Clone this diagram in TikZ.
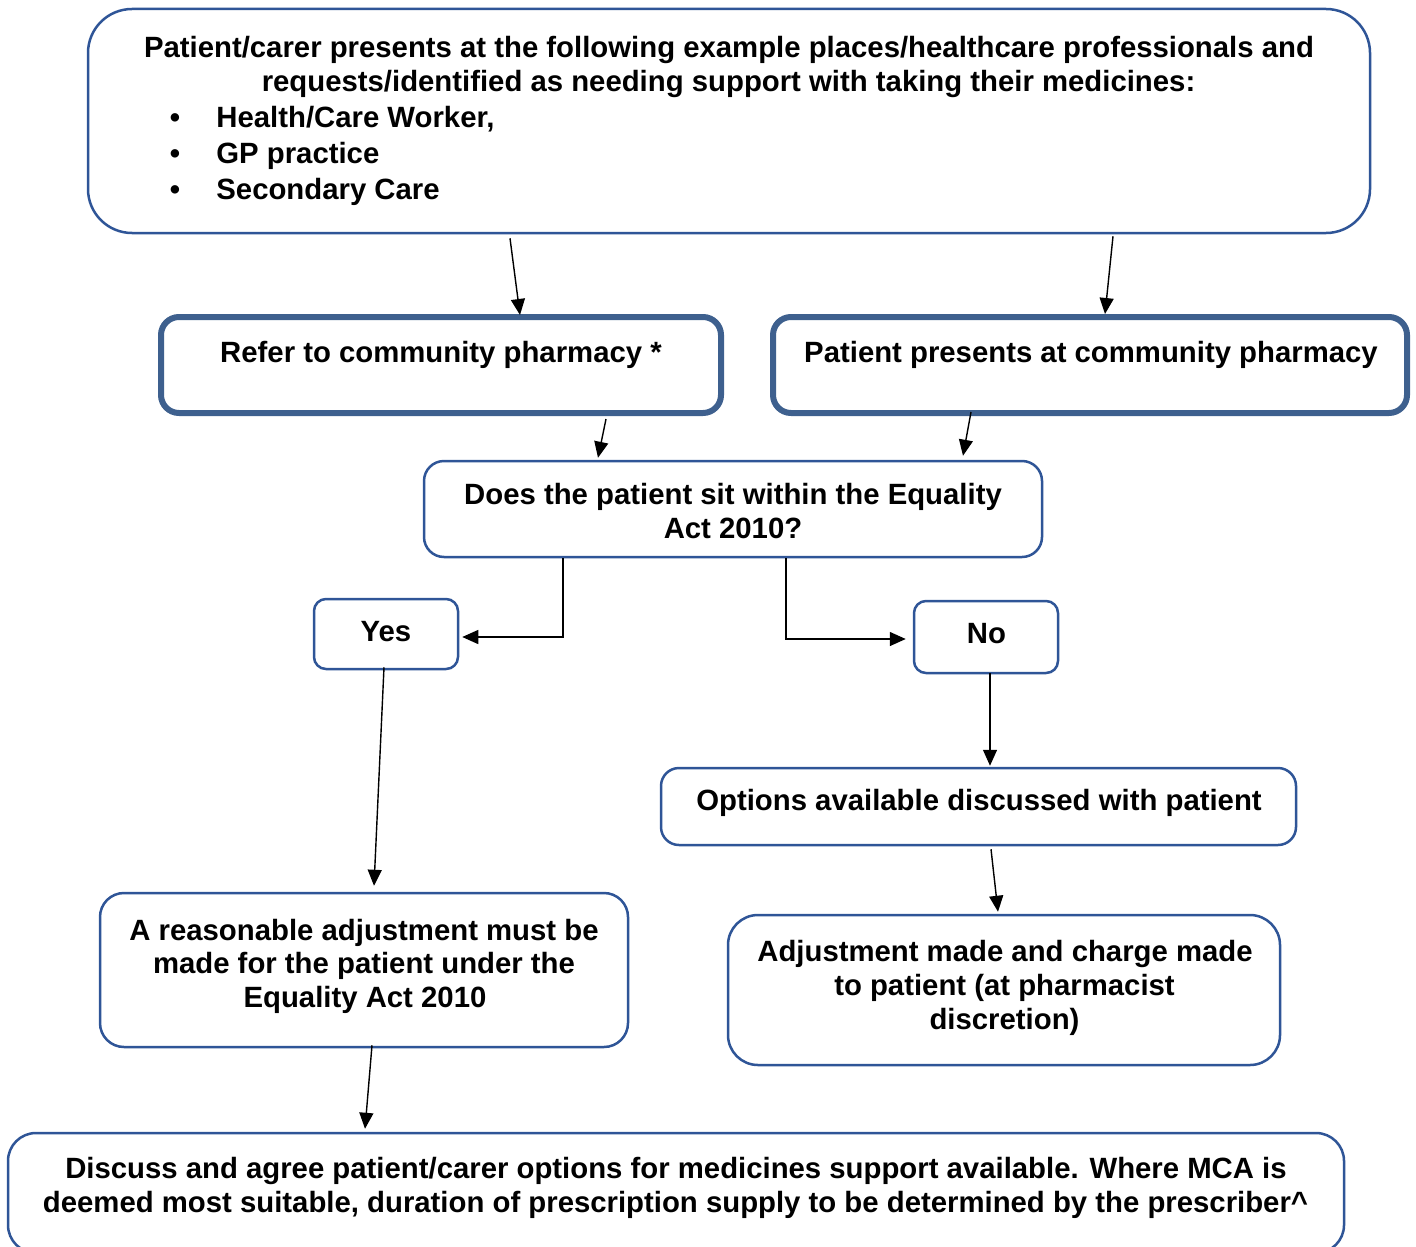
\documentclass[tikz,border=0pt]{standalone}
\usepackage{fontspec}
\setmainfont{Liberation Sans}
\usetikzlibrary{arrows.meta,calc}
\definecolor{thinblue}{RGB}{47,85,151}
\definecolor{thickblue}{RGB}{62,96,142}
\tikzset{
  box/.style={draw=thinblue, line width=1.25pt, fill=white, rectangle, inner sep=0pt},
  thickbox/.style={draw=thickblue, line width=3pt, fill=white, rectangle, inner sep=0pt},
  txt/.style={anchor=base, inner sep=0pt, font=\bfseries\fontsize{14.66}{17}\selectfont},
  ltxt/.style={anchor=base west, inner sep=0pt, font=\bfseries\fontsize{14.66}{17}\selectfont},
  arr/.style={draw=black, line width=0.7pt, -{Triangle[length=8pt,width=7pt]}}
}
\begin{document}
\begin{tikzpicture}[x=0.5pt,y=-0.5pt]
\useasboundingbox (0,0) rectangle (1416,1246);
% boxes
\node[box, rounded corners=22pt, minimum width=641pt, minimum height=112pt] (top) at (729,121) {};
\node[thickbox, rounded corners=9pt, minimum width=280pt, minimum height=48pt] (refer) at (441,365) {};
\node[thickbox, rounded corners=9pt, minimum width=317pt, minimum height=48pt] (pres) at (1090,365) {};
\node[box, rounded corners=10pt, minimum width=309pt, minimum height=48pt] (eq) at (733,509) {};
\node[box, rounded corners=6pt, minimum width=72pt, minimum height=35pt] (yes) at (386,634) {};
\node[box, rounded corners=6pt, minimum width=72pt, minimum height=36pt] (no) at (986,637) {};
\node[box, rounded corners=9pt, minimum width=317.5pt, minimum height=38.5pt] (opt) at (978.5,806.5) {};
\node[box, rounded corners=15pt, minimum width=276pt, minimum height=75pt] (adj) at (1004,990) {};
\node[box, rounded corners=12pt, minimum width=264pt, minimum height=77pt] (rea) at (364,970) {};
\node[box, rounded corners=14pt, minimum width=668pt, minimum height=60pt] (dis) at (676,1193) {};
% texts
\node[txt] (t1) at (729,58) {Patient/carer presents at the following example places/healthcare professionals and};
\node[txt] (t2) at (728.5,92) {requests/identified as needing support with taking their medicines:};
\node[txt] (b1) at (175,128) {\textbullet};
\node[txt] (b2) at (175,163) {\textbullet};
\node[txt] (b3) at (175,199) {\textbullet};
\node[ltxt] (l1) at (216,128) {Health/Care Worker,};
\node[ltxt] (l2) at (216,163) {GP practice};
\node[ltxt] (l3) at (216,199) {Secondary Care};
\node[txt] (treferl) at (441,362) {Refer to community pharmacy *};
\node[txt] (tpres) at (1091,362) {Patient presents at community pharmacy};
\node[txt] (teq1) at (733,504) {Does the patient sit within the Equality};
\node[txt] (teq2) at (733,538) {Act 2010?};
\node[txt] (tyes) at (386,641) {Yes};
\node[txt] (tno) at (986.5,643) {No};
\node[txt] (topt) at (979,810) {Options available discussed with patient};
\node[txt] (tadj1) at (1005,961) {Adjustment made and charge made};
\node[txt] (tadj2) at (1004.5,995) {to patient (at pharmacist};
\node[txt] (tadj3) at (1004.5,1029) {discretion)};
\node[txt] (trea1) at (364,940) {A reasonable adjustment must be};
\node[txt] (trea2) at (364,973) {made for the patient under the};
\node[txt] (trea3) at (365,1007) {Equality Act 2010};
\node[txt] (tdis1) at (676,1178) {Discuss and agree patient/carer options for medicines support available. Where MCA is};
\node[txt] (tdis2) at (675.5,1212) {deemed most suitable, duration of prescription supply to be determined by the prescriber\^{}};
% connectors
\draw[arr] ($(top.south)+(-219,4)$) -- ($(refer.north)+(79,1)$);
\draw[arr] ($(top.south)+(384,2)$) -- ($(pres.north)+(15,0)$);
\draw[arr] ($(refer.south)+(165,3)$) -- ($(eq.north)+(-135,-2)$);
\draw[arr] ($(pres.south)+(-119,-4)$) -- ($(eq.north)+(230,-4)$);
\draw[arr] ($(eq.south)+(-170,0)$) |- ($(yes.east)+(3,3)$);
\draw[arr] ($(eq.south)+(53,0)$) |- ($(no.west)+(-7,2)$);
\draw[arr] ($(yes.south)+(-2,-3)$) -- ($(rea.north)+(10,-6)$);
\draw[arr] ($(no.south)+(4,-1)$) -- ($(opt.north)+(11.5,-1)$);
\draw[arr] ($(opt.south)+(12.5,3)$) -- ($(adj.north)+(-6,-2)$);
\draw[arr] ($(rea.south)+(8,-3)$) -- ($(dis.north)+(-311,-3)$);
\end{tikzpicture}
\end{document}
